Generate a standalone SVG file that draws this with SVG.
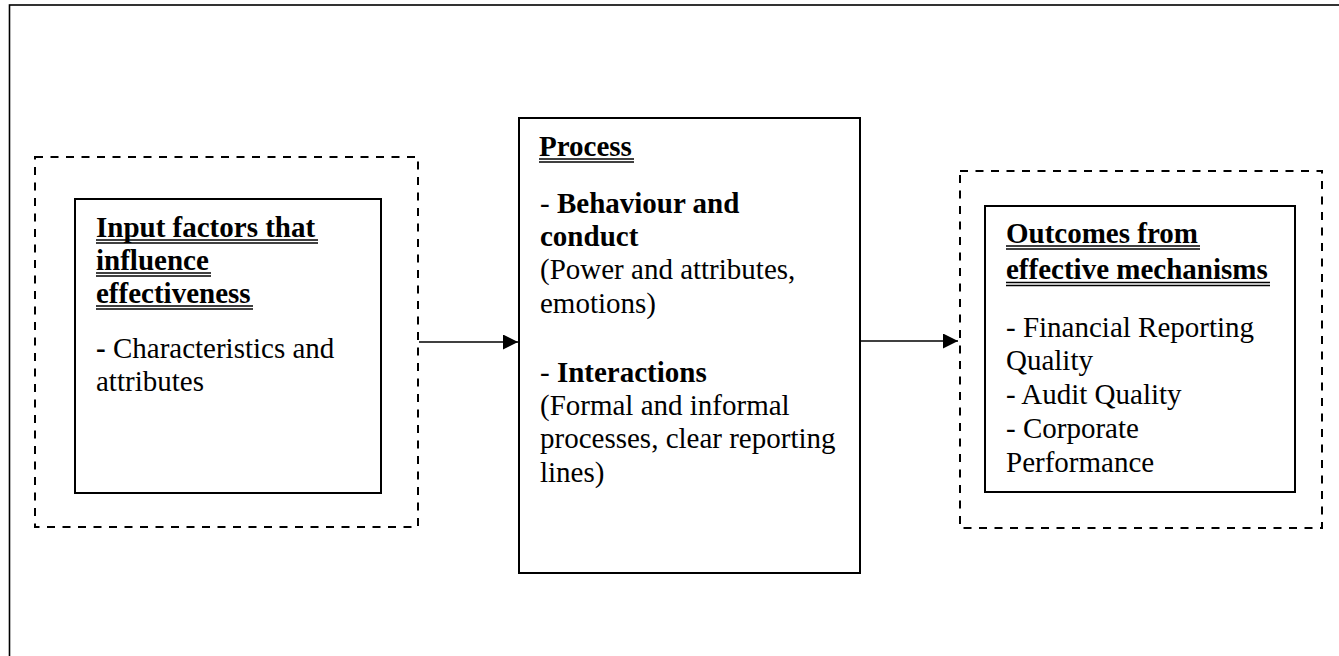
<svg xmlns="http://www.w3.org/2000/svg" width="1339" height="656" viewBox="0 0 1339 656">
<style>
  text { font-family: "Liberation Serif", "Times New Roman", serif; font-size: 29px; fill: #000; }
  .b { font-weight: bold; }
  .solid { fill: #fff; stroke: #000; stroke-width: 2; }
  .dash { fill: none; stroke: #000; stroke-width: 2; stroke-dasharray: 8 7.5; }
  .ul { stroke: #000; stroke-width: 1.3; }
  .conn { stroke: #000; stroke-width: 1.6; fill: none; }
</style>
<defs>
  <marker id="arrow" markerWidth="16" markerHeight="16" refX="15" refY="7.5" orient="auto" markerUnits="userSpaceOnUse">
    <path d="M0,0 L15,7.5 L0,15 Z" fill="#000"/>
  </marker>
</defs>
<rect width="1339" height="656" fill="#fff"/>
<rect id="frame" x="9.5" y="5" width="1340" height="660" fill="none" stroke="#000" stroke-width="1.6"/>

<g id="input">
  <rect class="dash" x="35" y="157" width="383" height="370"/>
  <rect class="solid" x="75" y="199" width="306" height="294"/>
  <text class="b" x="96" y="237">Input factors that</text>
  <line class="ul" x1="96" y1="240" x2="318" y2="240"/>
  <line class="ul" x1="96" y1="243" x2="318" y2="243"/>
  <text class="b" x="96" y="270">influence</text>
  <line class="ul" x1="96" y1="273" x2="211" y2="273"/>
  <text class="b" x="96" y="303">effectiveness</text>
  <line class="ul" x1="96" y1="306" x2="253" y2="306"/>
  <line class="ul" x1="96" y1="309" x2="253" y2="309"/>
  <line class="ul" x1="96" y1="276" x2="211" y2="276"/>
  <text x="96" y="358"><tspan class="b">-</tspan> Characteristics and</text>
  <text x="96" y="391">attributes</text>
</g>

<g id="process">
  <rect class="solid" x="519" y="118" width="341" height="455"/>
  <text class="b" x="539" y="156">Process</text>
  <line class="ul" x1="539" y1="159" x2="634" y2="159"/>
  <line class="ul" x1="539" y1="162" x2="634" y2="162"/>
  <text x="540" y="213">- <tspan class="b">Behaviour and</tspan></text>
  <text class="b" x="540" y="246">conduct</text>
  <text x="540" y="279">(Power and attributes,</text>
  <text x="540" y="313">emotions)</text>
  <text x="540" y="382">- <tspan class="b">Interactions</tspan></text>
  <text x="540" y="415">(Formal and informal</text>
  <text x="540" y="448">processes, clear reporting</text>
  <text x="540" y="482">lines)</text>
</g>

<g id="outcomes">
  <rect class="dash" x="960" y="171" width="362" height="357"/>
  <rect class="solid" x="985" y="206" width="310" height="286"/>
  <text class="b" x="1006" y="243">Outcomes from</text>
  <line class="ul" x1="1006" y1="246" x2="1200" y2="246"/>
  <line class="ul" x1="1006" y1="249" x2="1200" y2="249"/>
  <text class="b" x="1006" y="279">effective mechanisms</text>
  <line class="ul" x1="1006" y1="282.5" x2="1270" y2="282.5"/>
  <line class="ul" x1="1006" y1="285.5" x2="1270" y2="285.5"/>
  <text x="1006" y="337">- Financial Reporting</text>
  <text x="1006" y="370">Quality</text>
  <text x="1006" y="404">- Audit Quality</text>
  <text x="1006" y="438">- Corporate</text>
  <text x="1006" y="472">Performance</text>
</g>

<g id="connectors">
  <line class="conn" x1="419" y1="342" x2="518" y2="342" marker-end="url(#arrow)"/>
  <line class="conn" x1="860" y1="341" x2="958" y2="341" marker-end="url(#arrow)"/>
</g>
</svg>
